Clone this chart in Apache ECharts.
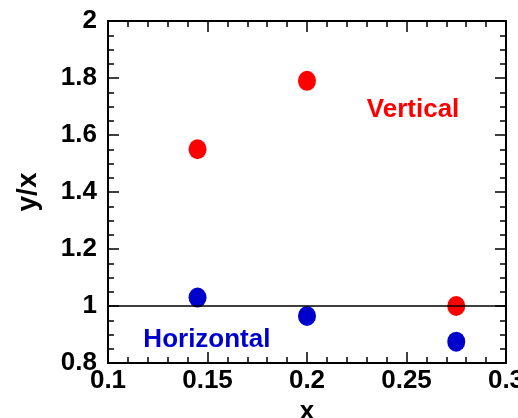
<!DOCTYPE html>
<html>
<head>
<meta charset="utf-8">
<script src="https://cdn.jsdelivr.net/npm/echarts@6/dist/echarts.min.js"></script>
<style>
  html, body { margin: 0; padding: 0; background: #fff; }
  #main { width: 518px; height: 418px; }
</style>
</head>
<body>
<div id="main"></div>
<script>
// data
const xVertical = [0.145, 0.2, 0.275];
const yVertical = [1.55, 1.79, 1.0];
const xHorizontal = [0.145, 0.2, 0.275];
const yHorizontal = [1.03, 0.965, 0.875];
const refLine = 1;
// text labels placed in data coordinates
const labelVertical = { text: 'Vertical', x: 0.2533, y: 1.69 };
const labelHorizontal = { text: 'Horizontal', x: 0.1497, y: 0.881 };

const font = 'Liberation Sans, Arial, sans-serif';
const red = '#ff0000';
const blue = '#0000cc';

function pairs(xs, ys) {
    let out = [];
    for (let i = 0; i < xs.length; i++) {
        out.push([xs[i], ys[i]]);
    }
    return out;
}

// Axis factory: the bottom/left ones carry labels, top/right only ticks
function makeAxis(pos, min, max, interval, minorSplit, withLabels) {
    return {
        type: 'value',
        position: pos,
        min: min,
        max: max,
        interval: interval,
        axisLine: { show: true, onZero: false, lineStyle: { color: '#000', width: 2 } },
        axisTick: { show: true, inside: true, length: 11, lineStyle: { color: '#000', width: 1.5 } },
        minorTick: { show: true, splitNumber: minorSplit, length: 6, lineStyle: { color: '#000', width: 1.5 } },
        splitLine: { show: false },
        axisLabel: {
            show: withLabels,
            color: '#000',
            fontFamily: font,
            fontWeight: 'bold',
            fontSize: 26,
            margin: 11,
            formatter: v => String(+v.toFixed(2))
        }
    };
}

var chartDom = document.getElementById('main');
var myChart = echarts.init(chartDom, null, { renderer: 'canvas' });

let xBottom = makeAxis('bottom', 0.1, 0.3, 0.05, 5, true);
xBottom.axisLabel.margin = 5;
xBottom.name = 'x';
xBottom.nameLocation = 'middle';
xBottom.nameGap = 27;
xBottom.nameTextStyle = { color: '#000', fontFamily: font, fontWeight: 'bold', fontSize: 26 };
let xTop = makeAxis('top', 0.1, 0.3, 0.05, 5, false);

let yLeft = makeAxis('left', 0.8, 2, 0.2, 4, true);
yLeft.name = 'y/x';
yLeft.nameLocation = 'middle';
yLeft.nameGap = 66;
yLeft.nameTextStyle = { color: '#000', fontFamily: font, fontWeight: 'bold', fontSize: 28 };
let yRight = makeAxis('right', 0.8, 2, 0.2, 4, false);

// invisible point that only carries a text label
function textSeries(lbl, color) {
    return {
        type: 'scatter',
        xAxisIndex: 0,
        yAxisIndex: 0,
        symbolSize: 0,
        silent: true,
        itemStyle: { color: color, opacity: 1 },
        data: [[lbl.x, lbl.y]],
        label: {
            show: true,
            position: 'inside',
            formatter: lbl.text,
            color: color,
            opacity: 1,
            fontFamily: font,
            fontWeight: 'bold',
            fontSize: 26
        }
    };
}

var option = {
    animation: false,
    backgroundColor: '#fff',
    grid: { left: 108, right: 12, top: 21, bottom: 55, outerBoundsMode: 'none' },
    xAxis: [xBottom, xTop],
    yAxis: [yLeft, yRight],
    series: [
        {
            type: 'scatter',
            name: 'Vertical',
            symbol: 'circle',
            symbolSize: [18, 20],
            itemStyle: { color: red, opacity: 1 },
            data: pairs(xVertical, yVertical),
            z: 3,
            markLine: {
                silent: true,
                symbol: 'none',
                label: { show: false },
                lineStyle: { color: '#000', width: 1.5, type: 'solid' },
                data: [{ yAxis: refLine }]
            }
        },
        {
            type: 'scatter',
            name: 'Horizontal',
            symbol: 'circle',
            symbolSize: [18, 20],
            itemStyle: { color: blue, opacity: 1 },
            data: pairs(xHorizontal, yHorizontal),
            z: 3
        },
        textSeries(labelVertical, red),
        textSeries(labelHorizontal, blue)
    ]
};
option && myChart.setOption(option);
</script>
</body>
</html>
